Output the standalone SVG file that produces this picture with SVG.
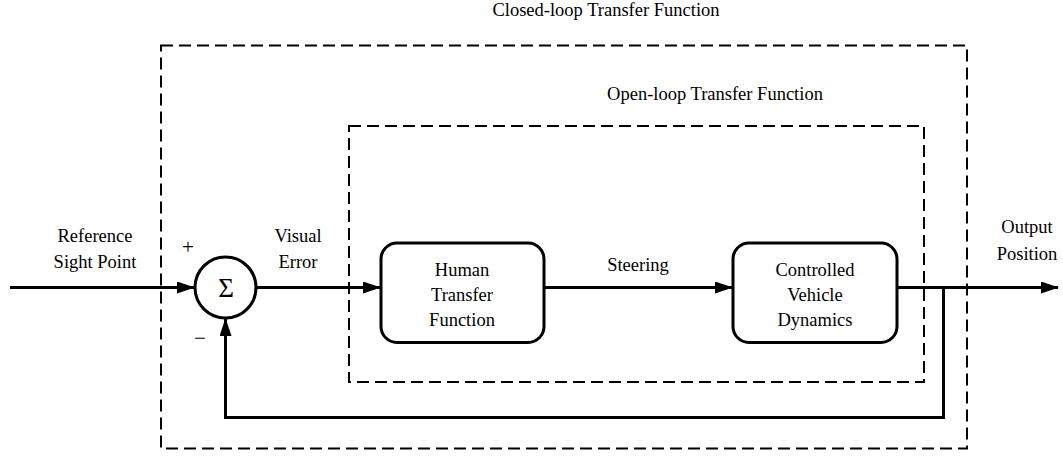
<svg xmlns="http://www.w3.org/2000/svg" width="1063" height="456" viewBox="0 0 1063 456">
<defs>
<marker id="arr" markerWidth="18" markerHeight="12" refX="17" refY="6" orient="auto" markerUnits="userSpaceOnUse">
<path d="M0,0 L18,6 L0,12 Z" fill="#000"/>
</marker>
<style>
text{font-family:'Liberation Serif','DejaVu Serif',serif;font-size:18.5px;fill:#000;text-anchor:middle}
text.sym{font-size:21px}
text.sig{font-size:27px}
.dash{fill:none;stroke:#000;stroke-width:2;stroke-dasharray:12 6}
.box{fill:#fff;stroke:#000;stroke-width:3}
.ln{fill:none;stroke:#000;stroke-width:3}
</style>
</defs>
<rect width="1063" height="456" fill="#fff"/>
<g id="closed-loop">
<rect class="dash" x="161" y="45.5" width="806" height="403"/>
<text x="606" y="16">Closed-loop Transfer Function</text>
</g>
<g id="open-loop">
<rect class="dash" x="349" y="126" width="575" height="256"/>
<text x="715" y="100">Open-loop Transfer Function</text>
</g>
<g id="connectors">
<path class="ln" d="M10,287.5 H194" marker-end="url(#arr)"/>
<path class="ln" d="M256,287.5 H380" marker-end="url(#arr)"/>
<path class="ln" d="M544,287.5 H732" marker-end="url(#arr)"/>
<path class="ln" d="M897,287.5 H1058" marker-end="url(#arr)"/>
<path class="ln" d="M943.5,287.5 V417.5 H225.5 V319" marker-end="url(#arr)"/>
</g>
<g id="labels">
<text x="95" y="242">Reference</text>
<text x="95" y="268">Sight Point</text>
<text x="298" y="242">Visual</text>
<text x="298" y="268">Error</text>
<text x="638" y="271">Steering</text>
<text x="1027" y="233">Output</text>
<text x="1027" y="260">Position</text>
<text class="sym" x="188" y="254">+</text>
<text class="sym" x="200" y="345">−</text>
</g>
<g id="sum">
<circle cx="225.5" cy="287.5" r="30.5" fill="#fff" stroke="#000" stroke-width="3"/>
<text class="sig" x="226" y="297">Σ</text>
</g>
<g id="human">
<rect class="box" x="381" y="243" width="163" height="99.5" rx="16"/>
<text x="462" y="276">Human</text>
<text x="462" y="301">Transfer</text>
<text x="462" y="326">Function</text>
</g>
<g id="vehicle">
<rect class="box" x="733" y="243" width="164" height="99.5" rx="16"/>
<text x="815" y="276">Controlled</text>
<text x="815" y="301">Vehicle</text>
<text x="815" y="326">Dynamics</text>
</g>
</svg>
